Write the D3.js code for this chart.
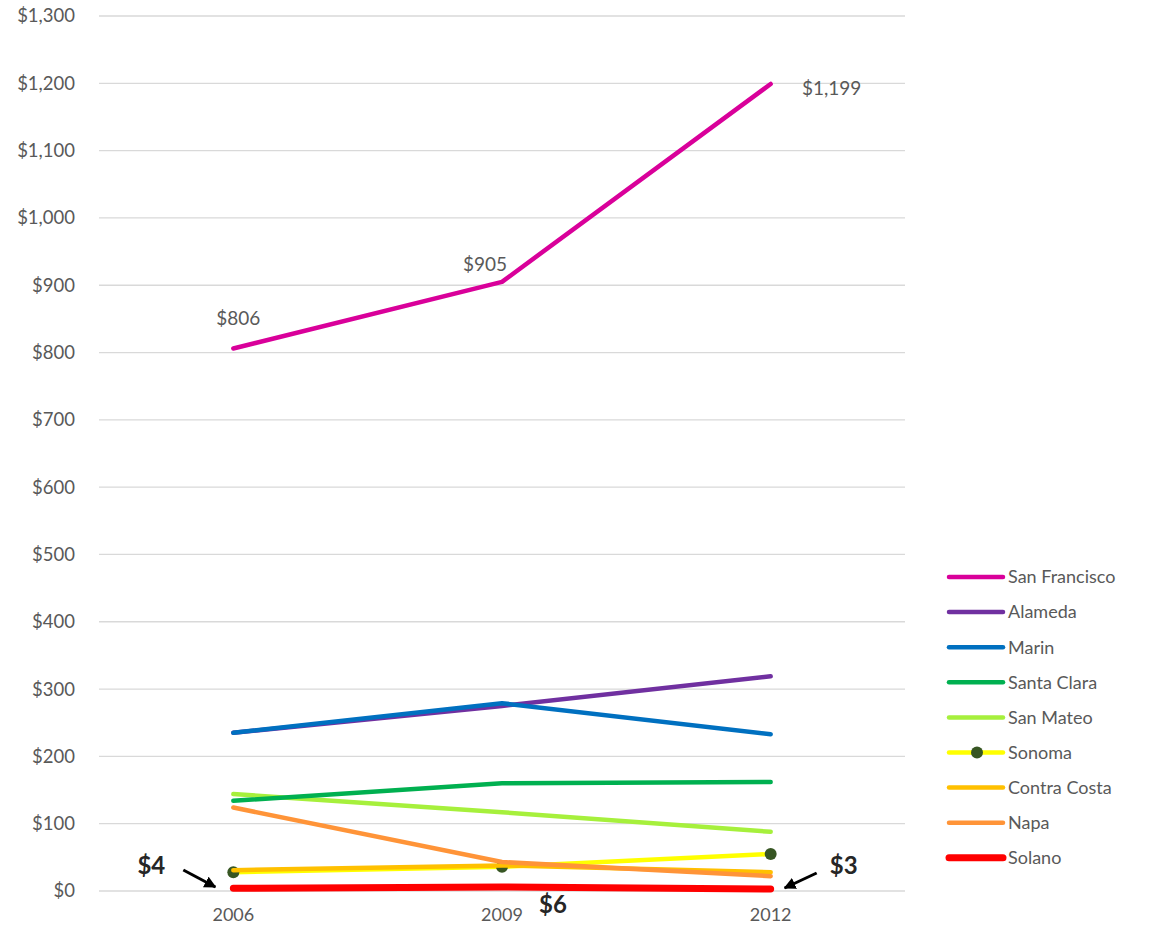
<!DOCTYPE html>
<html>
<head>
<meta charset="utf-8">
<script src="https://cdn.jsdelivr.net/npm/d3@7"></script>
<style>
  body { margin: 0; background: #fff; }
  text { font-family: "Lato", "Open Sans", sans-serif; fill: #595959; }
</style>
</head>
<body>
<svg id="chart" width="1149" height="934"></svg>
<script>
// chart data
const years = ["2006", "2009", "2012"];
const counties = ["San Francisco", "Alameda", "Marin", "Santa Clara", "San Mateo", "Sonoma", "Contra Costa", "Napa", "Solano"];
const sanFrancisco = [806, 905, 1199];
const alameda = [235, 275, 319];
const marin = [235, 279, 233];
const santaClara = [134, 160, 162];
const sanMateo = [144, 117, 88];
const sonoma = [28, 36, 55];
const contraCosta = [31, 38, 28];
const napa = [124, 43, 22];
const solano = [4, 6, 3];
const yTicks = [0, 100, 200, 300, 400, 500, 600, 700, 800, 900, 1000, 1100, 1200, 1300];

const seriesValues = [sanFrancisco, alameda, marin, santaClara, sanMateo, sonoma, contraCosta, napa, solano];
const colors = ["#d9009a", "#7030a0", "#0070c0", "#00b050", "#a6f03c", "#ffff00", "#ffc000", "#ff9438", "#ff0000"];

// plot area
const plotLeft = 99, plotRight = 905, plotTop = 16, plotBottom = 891;

const svg = d3.select("#chart");

const x = d3.scalePoint().domain(years).range([plotLeft, plotRight]).padding(0.5);
const y = d3.scaleLinear().domain([0, 1300]).range([plotBottom, plotTop]);

// gridlines
svg.append("g")
  .selectAll("line")
  .data(yTicks)
  .enter()
  .append("line")
  .attr("x1", plotLeft).attr("x2", plotRight)
  .attr("y1", d => y(d)).attr("y2", d => y(d))
  .attr("stroke", "#d9d9d9")
  .attr("stroke-width", 1.3);

// y axis labels
svg.append("g")
  .selectAll("text")
  .data(yTicks)
  .enter()
  .append("text")
  .attr("x", 75)
  .attr("y", d => y(d))
  .attr("dy", "0.35em")
  .attr("text-anchor", "end")
  .style("font-size", "18.5px")
  .text(d => "$" + d3.format(",")(d));

// x axis labels
svg.append("g")
  .selectAll("text")
  .data(years)
  .enter()
  .append("text")
  .attr("x", d => x(d))
  .attr("y", 921)
  .attr("text-anchor", "middle")
  .style("font-size", "18px")
  .text(d => d);

const line = d3.line()
  .x((d, i) => x(years[i]))
  .y(d => y(d));

// draw bottom series first so San Francisco sits on top, Solano last
const order = [5, 6, 7, 4, 3, 1, 2, 0, 8];
order.forEach(function (k) {
  svg.append("path")
    .datum(seriesValues[k])
    .attr("d", line)
    .attr("fill", "none")
    .attr("stroke", colors[k])
    .attr("stroke-width", k == 8 ? 7 : 4.5)
    .attr("stroke-linecap", "round")
    .attr("stroke-linejoin", "round");

  if (k == 5) {
    svg.append("g")
      .selectAll("circle")
      .data(sonoma)
      .enter()
      .append("circle")
      .attr("cx", (d, i) => x(years[i]))
      .attr("cy", d => y(d))
      .attr("r", 6)
      .attr("fill", "#375623");
  }
});

// San Francisco value labels
const sfLabelOffsets = [[5, -30], [-17, -18], [61, 4]];
svg.append("g")
  .selectAll("text")
  .data(sanFrancisco)
  .enter()
  .append("text")
  .attr("x", (d, i) => x(years[i]) + sfLabelOffsets[i][0])
  .attr("y", (d, i) => y(d) + sfLabelOffsets[i][1])
  .attr("dy", "0.35em")
  .attr("text-anchor", "middle")
  .style("font-size", "19px")
  .text(d => "$" + d3.format(",")(d));

// Solano callouts
svg.append("defs").append("marker")
  .attr("id", "arrow")
  .attr("viewBox", "0 0 10 10")
  .attr("refX", 9).attr("refY", 5)
  .attr("markerWidth", 4).attr("markerHeight", 4)
  .attr("orient", "auto")
  .append("path")
  .attr("d", "M0,0 L10,5 L0,10 z")
  .attr("fill", "#000");

const callouts = [
  { text: "$" + solano[0], tx: x(years[0]) - 82, ty: 866, ax1: x(years[0]) - 50, ay1: 870, ax2: x(years[0]) - 18, ay2: 887 },
  { text: "$" + solano[1], tx: x(years[1]) + 51, ty: 905 },
  { text: "$" + solano[2], tx: x(years[2]) + 73, ty: 866, ax1: x(years[2]) + 46, ay1: 873, ax2: x(years[2]) + 14, ay2: 888 }
];

callouts.forEach(function (c) {
  svg.append("text")
    .attr("x", c.tx)
    .attr("y", c.ty)
    .attr("dy", "0.35em")
    .attr("text-anchor", "middle")
    .style("font-size", "24px")
    .style("font-weight", "bold")
    .style("fill", "#262626")
    .text(c.text);
  if (c.ax1 !== undefined) {
    svg.append("line")
      .attr("x1", c.ax1).attr("y1", c.ay1)
      .attr("x2", c.ax2).attr("y2", c.ay2)
      .attr("stroke", "#000")
      .attr("stroke-width", 3)
      .attr("marker-end", "url(#arrow)");
  }
});

// legend
const legend = svg.append("g")
  .selectAll("g")
  .data(counties)
  .enter()
  .append("g")
  .attr("transform", (d, i) => `translate(949, ${577 + i * 35.1})`);

legend.append("line")
  .attr("x1", 0).attr("x2", 54)
  .attr("stroke", (d, i) => colors[i])
  .attr("stroke-width", (d, i) => i == 8 ? 7 : 4.5)
  .attr("stroke-linecap", "round");

legend.filter((d, i) => i == 5)
  .append("circle")
  .attr("cx", 28)
  .attr("r", 6)
  .attr("fill", "#375623");

legend.append("text")
  .attr("x", 59)
  .attr("dy", "0.35em")
  .style("font-size", "18px")
  .text(d => d);
</script>
</body>
</html>
